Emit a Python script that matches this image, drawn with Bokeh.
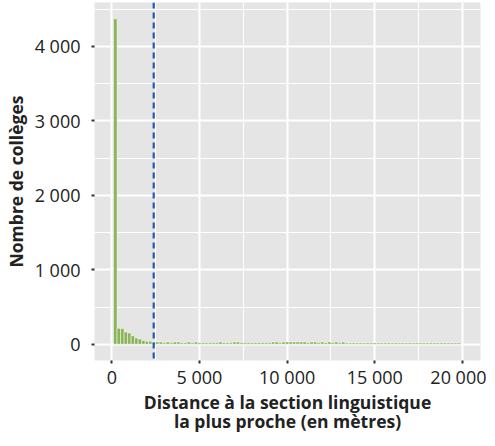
from bokeh.plotting import figure
from bokeh.models import Range1d, FixedTicker, Span, ColumnDataSource
from bokeh.embed import file_html
from bokeh.resources import INLINE

# ---- data ----
bin_width = 200
bin_centers = list(range(200, 19801, 200))
counts = [
    4370, 215, 210, 165, 150, 115, 85, 70, 50, 40,      # 200 - 2000
    40, 28, 32, 32, 20, 32, 20, 32, 32, 20,             # 2200 - 4000
    20, 32, 20, 32, 20, 20, 20, 20, 20, 20,             # 4200 - 6000
    32, 20, 20, 20, 32, 32, 20, 20, 20, 20,             # 6200 - 8000
    20, 20, 20, 20, 20, 32, 32, 20, 32, 32,             # 8200 - 10000
    32, 32, 32, 32, 32, 20, 32, 32, 20, 32,             # 10200 - 12000
    20, 32, 20, 32, 20, 32, 18, 18, 18, 18,             # 12200 - 14000
    18, 18, 18, 18, 18, 18, 18, 18, 18, 18,             # 14200 - 16000
    18, 18, 18, 18, 18, 18, 18, 18, 18, 18,             # 16200 - 18000
    18, 18, 18, 18, 18, 18, 18, 18, 18,                 # 18200 - 19800
]
threshold = 2390

x_ticks = [0, 5000, 10000, 15000, 20000]
x_tick_labels = ["0", "5 000", "10 000", "15 000", "20 000"]
x_minor = [2500, 7500, 12500, 17500]
y_ticks = [0, 1000, 2000, 3000, 4000]
y_tick_labels = ["0", "1 000", "2 000", "3 000", "4 000"]
y_minor = [500, 1500, 2500, 3500, 4500]

x_title = "Distance à la section linguistique\nla plus proche (en mètres)"
y_title = "Nombre de collèges"

# ---- build ----
src = ColumnDataSource(dict(
    left=[c - bin_width / 2 for c in bin_centers],
    right=[c + bin_width / 2 for c in bin_centers],
    top=counts,
))

FONT = "Open Sans"
TXT = "#222222"

p = figure(frame_width=386, frame_height=358, output_backend="svg",
           toolbar_location=None,
           x_range=Range1d(-987, 21027), y_range=Range1d(-218, 4588),
           min_border_left=87, min_border_right=6, min_border_top=2,
           min_border_bottom=0)
p.outline_line_color = None
p.background_fill_color = "#E5E5E5"
p.border_fill_color = "white"

p.quad(left="left", right="right", top="top", bottom=0, source=src,
       fill_color="#8BB35A", line_color="white", line_width=0.5)

p.add_layout(Span(location=threshold, dimension="height", line_color="#2456BE",
                  line_width=2.2, line_dash="6 4"))

p.xaxis.ticker = FixedTicker(ticks=x_ticks, minor_ticks=x_minor)
p.yaxis.ticker = FixedTicker(ticks=y_ticks, minor_ticks=y_minor)
p.xaxis.major_label_overrides = {t: l for t, l in zip(x_ticks, x_tick_labels)}
p.yaxis.major_label_overrides = {t: l for t, l in zip(y_ticks, y_tick_labels)}

for g in (p.xgrid, p.ygrid):
    g.grid_line_color = "white"
    g.grid_line_width = 2
    g.minor_grid_line_color = "white"
    g.minor_grid_line_width = 1

for ax in (p.xaxis, p.yaxis):
    ax.axis_line_color = None
    ax.minor_tick_line_color = None
    ax.major_tick_line_color = "#333333"
    ax.major_tick_line_width = 2
    ax.major_tick_out = 3
    ax.major_tick_in = 0
    ax.major_label_text_font = FONT
    ax.major_label_text_font_size = "18px"
    ax.major_label_text_color = TXT
    ax.axis_label_text_font = FONT
    ax.axis_label_text_font_size = "17.5px"
    ax.axis_label_text_font_style = "bold"
    ax.axis_label_text_color = TXT
    ax.axis_label_text_line_height = 0.8

p.xaxis.axis_label = x_title
p.yaxis.axis_label = y_title
p.xaxis.major_label_standoff = 0
p.yaxis.major_label_standoff = 10
p.xaxis.axis_label_standoff = -2
p.yaxis.axis_label_standoff = 4

open("out.html", "w").write(file_html(p, INLINE))
